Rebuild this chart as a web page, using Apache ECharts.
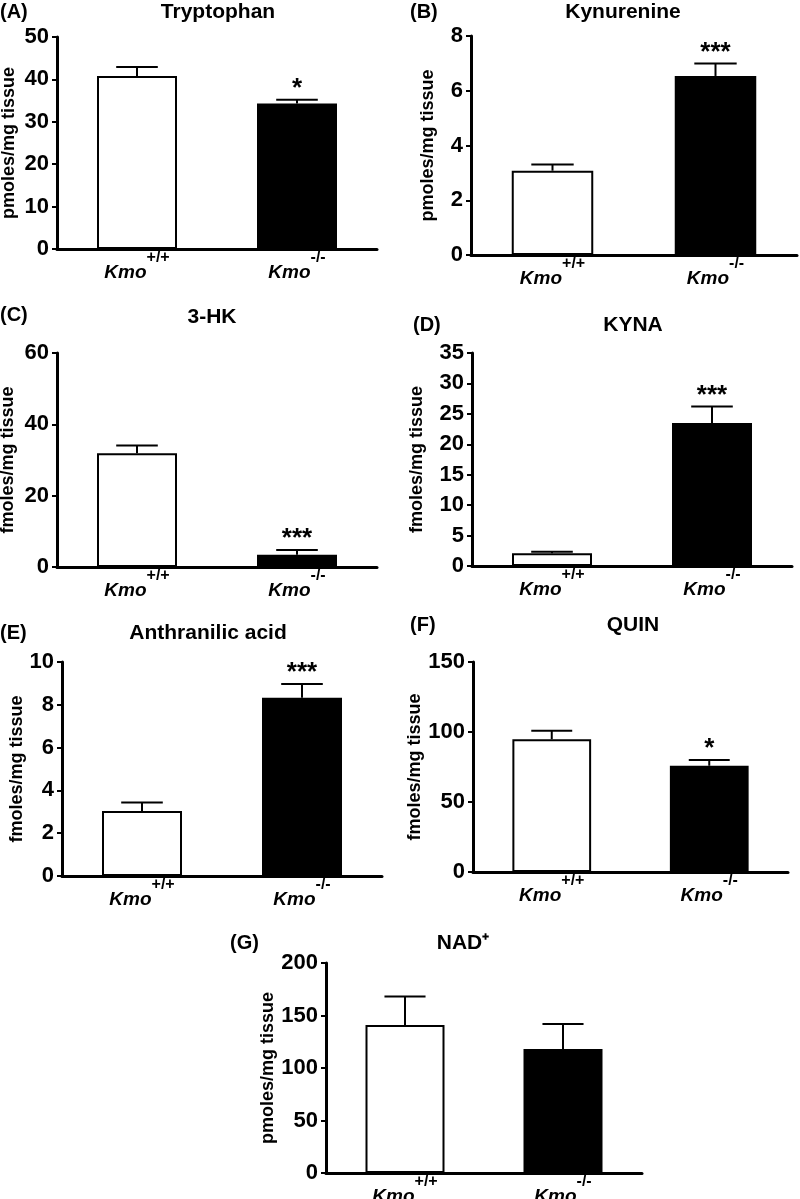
<!DOCTYPE html>
<html>
<head>
<meta charset="utf-8">
<script src="https://cdn.jsdelivr.net/npm/echarts@6/dist/echarts.min.js"></script>
<style>
  html, body { margin: 0; padding: 0; background: #fff; }
  #main { width: 800px; height: 1199px; }
</style>
</head>
<body>
<div id="main"></div>
<script>
// genotypes on every x axis
const groups = ['+/+', '-/-'];

// means and SEM
const tryptophanMean = [40.8, 34.3];
const tryptophanSem = [2.1, 0.9];
const kynurenineMean = [3.08, 6.54];
const kynurenineSem = [0.23, 0.46];
const hkMean = [31.9, 3.4];
const hkSem = [2.2, 1.4];
const kynaMean = [2.1, 23.5];
const kynaSem = [0.25, 2.7];
const anthranilicMean = [3.04, 8.33];
const anthranilicSem = [0.4, 0.64];
const quinMean = [94.8, 75.9];
const quinSem = [6.1, 4.1];
const nadMean = [141, 118];
const nadSem = [27, 24];

// significance stars
const tryptophanSig = ['', '*'];
const kynurenineSig = ['', '***'];
const hkSig = ['', '***'];
const kynaSig = ['', '***'];
const anthranilicSig = ['', '***'];
const quinSig = ['', '*'];
const nadSig = ['', ''];

// y axis ranges
const yMax = [50, 8, 60, 35, 10, 150, 200];
const yStep = [10, 2, 20, 5, 2, 50, 50];

const letters = ['(A)', '(B)', '(C)', '(D)', '(E)', '(F)', '(G)'];
const titles = ['Tryptophan', 'Kynurenine', '3-HK', 'KYNA', 'Anthranilic acid', 'QUIN', 'NAD⁺'];
const units = ['pmoles/mg tissue', 'pmoles/mg tissue', 'fmoles/mg tissue', 'fmoles/mg tissue',
  'fmoles/mg tissue', 'fmoles/mg tissue', 'pmoles/mg tissue'];

const means = [tryptophanMean, kynurenineMean, hkMean, kynaMean, anthranilicMean, quinMean, nadMean];
const sems = [tryptophanSem, kynurenineSem, hkSem, kynaSem, anthranilicSem, quinSem, nadSem];
const sigs = [tryptophanSig, kynurenineSig, hkSig, kynaSig, anthranilicSig, quinSig, nadSig];

// panel layout (pixels)
const grids = [
  { left: 57, top: 37, width: 320, height: 212 },
  { left: 471, top: 36, width: 326, height: 219 },
  { left: 57, top: 353, width: 320, height: 214 },
  { left: 472, top: 353, width: 320, height: 213 },
  { left: 62, top: 662, width: 320, height: 214 },
  { left: 473, top: 662, width: 315, height: 210 },
  { left: 326, top: 963, width: 316, height: 210 }
];
const nameGaps = [39, 34, 40, 46, 35, 41, 36];
const titlePos = [[218, 12], [623, 12], [212, 317], [633, 325], [208, 633], [633, 625], [463, 943]];
const letterPos = [[0, 12], [410, 12], [0, 315], [413, 325], [0, 633], [410, 625], [230, 943]];

const FONT = 'Liberation Sans, Arial, sans-serif';

function errorBars(sig) {
  return function (params, api) {
    const idx = api.value(0);
    const mean = api.value(1);
    const sem = api.value(2);
    const base = api.coord([idx, mean]);
    const top = api.coord([idx, mean + sem]);
    const half = api.size([1, 0])[0] * 0.13;
    const lineStyle = { stroke: '#000', lineWidth: 2 };
    const children = [
      { type: 'line', shape: { x1: base[0], y1: base[1], x2: top[0], y2: top[1] }, style: lineStyle },
      { type: 'line', shape: { x1: top[0] - half, y1: top[1], x2: top[0] + half, y2: top[1] }, style: lineStyle }
    ];
    const s = sig[params.dataIndex];
    if (s) {
      children.push({
        type: 'text', x: top[0], y: top[1] + 2,
        style: { text: s, fill: '#000', fontSize: 26, fontWeight: 'bold', fontFamily: FONT, align: 'center', verticalAlign: 'bottom' }
      });
    }
    return { type: 'group', children: children };
  };
}

const option = {
  animation: false,
  backgroundColor: '#fff',
  grid: [],
  xAxis: [],
  yAxis: [],
  series: [],
  graphic: []
};

for (let i = 0; i < 7; i++) {
  option.grid.push(Object.assign({ outerBoundsMode: 'none', containLabel: false }, grids[i]));
  option.xAxis.push({
    type: 'category',
    gridIndex: i,
    data: groups,
    axisLine: { show: true, lineStyle: { color: '#000', width: 3 } },
    axisTick: { show: false },
    splitLine: { show: false },
    axisLabel: {
      interval: 0,
      margin: 1,
      formatter: function (v) { return '{k|Kmo}{s|' + v + '}'; },
      rich: {
        k: { fontSize: 19, fontWeight: 'bold', fontStyle: 'italic', fontFamily: FONT, color: '#000', lineHeight: 32, verticalAlign: 'bottom' },
        s: { fontSize: 16, fontWeight: 'bold', fontFamily: FONT, color: '#000', lineHeight: 12, verticalAlign: 'top' }
      }
    }
  });
  option.yAxis.push({
    type: 'value',
    gridIndex: i,
    min: 0,
    max: yMax[i],
    interval: yStep[i],
    name: units[i],
    nameLocation: 'middle',
    nameGap: nameGaps[i],
    nameTextStyle: { color: '#000', fontSize: 18, fontWeight: 'bold', fontFamily: FONT },
    axisLine: { show: true, lineStyle: { color: '#000', width: 3 } },
    axisTick: { show: true, length: 5, lineStyle: { color: '#000', width: 2 } },
    splitLine: { show: false },
    axisLabel: { color: '#000', fontSize: 22, fontWeight: 'bold', fontFamily: FONT, margin: 8 }
  });
  option.series.push({
    type: 'bar',
    xAxisIndex: i,
    yAxisIndex: i,
    barWidth: '50%',
    data: means[i].map(function (m, j) {
      return {
        value: m,
        itemStyle: j === 0
          ? { color: '#fff', borderColor: '#000', borderWidth: 2 }
          : { color: '#000', borderColor: '#000', borderWidth: 2 }
      };
    })
  });
  option.series.push({
    type: 'custom',
    xAxisIndex: i,
    yAxisIndex: i,
    z: 5,
    encode: { x: 0, y: 1 },
    data: means[i].map(function (m, j) { return [j, m, sems[i][j]]; }),
    renderItem: errorBars(sigs[i])
  });
  option.graphic.push({
    type: 'text', x: titlePos[i][0], y: titlePos[i][1],
    style: { text: titles[i], fill: '#000', fontSize: 21, fontWeight: 'bold', fontFamily: FONT, align: 'center', verticalAlign: 'middle' }
  });
  option.graphic.push({
    type: 'text', x: letterPos[i][0], y: letterPos[i][1],
    style: { text: letters[i], fill: '#000', fontSize: 20, fontWeight: 'bold', fontFamily: FONT, align: 'left', verticalAlign: 'middle' }
  });
}

const chart = echarts.init(document.getElementById('main'));
chart.setOption(option);
window.addEventListener('resize', chart.resize);
</script>
</body>
</html>
